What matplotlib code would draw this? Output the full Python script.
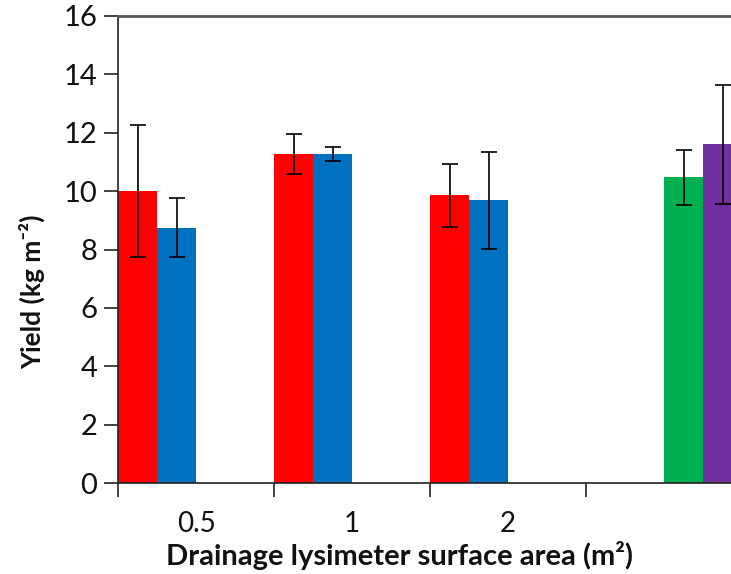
import numpy as np
import matplotlib
matplotlib.use("Agg")
import matplotlib.pyplot as plt

categories = ["0.5", "1", "2", ""]
red_vals = [10.00, 11.27, 9.86, np.nan]
red_err = [2.25, 0.68, 1.08, np.nan]
blue_vals = [8.75, 11.27, 9.68, np.nan]
blue_err = [1.02, 0.24, 1.65, np.nan]
green_vals = [np.nan, np.nan, np.nan, 10.47]
green_err = [np.nan, np.nan, np.nan, 0.94]
purple_vals = [np.nan, np.nan, np.nan, 11.60]
purple_err = [np.nan, np.nan, np.nan, 2.05]

series = [
    (red_vals, red_err, "#FF0000"),
    (blue_vals, blue_err, "#0070C0"),
    (green_vals, green_err, "#00B050"),
    (purple_vals, purple_err, "#7030A0"),
]

plt.rcParams['font.family'] = ['Lato', 'DejaVu Sans']

W, H = 731, 574
fig = plt.figure(figsize=(W / 100, H / 100), dpi=100)
ax = fig.add_axes([118 / W, (H - 483) / H, 624 / W, 467 / H])

n = len(categories)
x = np.arange(n)
bw = 0.25
for k, (vals, errs, col) in enumerate(series):
    pos = x + bw * (k + 0.5)
    ax.bar(pos, vals, width=bw, color=col, edgecolor='none', zorder=2)
    ax.errorbar(pos, vals, yerr=errs, fmt='none', ecolor='black',
                elinewidth=1.2, capsize=5.5, capthick=1.2, zorder=3)

ax.set_xlim(0, n)
ax.set_ylim(0, 16)
ax.set_yticks(np.arange(0, 17, 2))
ax.set_xticks(np.arange(0, n + 1))
ax.set_xticklabels([])
ax.set_xticks(x + 0.5, minor=True)
ax.set_xticklabels(categories, minor=True)
ax.tick_params(axis='x', which='minor', length=0, pad=20, labelsize=20, labelcolor='#111111')
ax.tick_params(axis='x', which='major', length=10, width=1.2, color='#222222', direction='out')
ax.tick_params(axis='y', length=10, width=1.2, color='#222222', direction='out',
               labelsize=21, pad=5, labelcolor='#111111')

ax.spines['right'].set_visible(False)
ax.spines['top'].set_color('#595959')
ax.spines['top'].set_linewidth(2)
ax.spines['left'].set_color('#222222')
ax.spines['left'].set_linewidth(1.2)
ax.spines['bottom'].set_color('#222222')
ax.spines['bottom'].set_linewidth(1.2)

ax.set_ylabel("Yield (kg m⁻²)", fontsize=19, fontweight='bold', va='center', color='#111111')
ax.yaxis.set_label_coords((32 - 118) / 624, (483 - 292) / 467)
ax.set_xlabel("Drainage lysimeter surface area (m²)", fontsize=21, fontweight='bold',
              va='center', color='#111111')
ax.xaxis.set_label_coords((399 - 118) / 624, (483 - 555) / 467)

fig.savefig("out.png", dpi=100)
